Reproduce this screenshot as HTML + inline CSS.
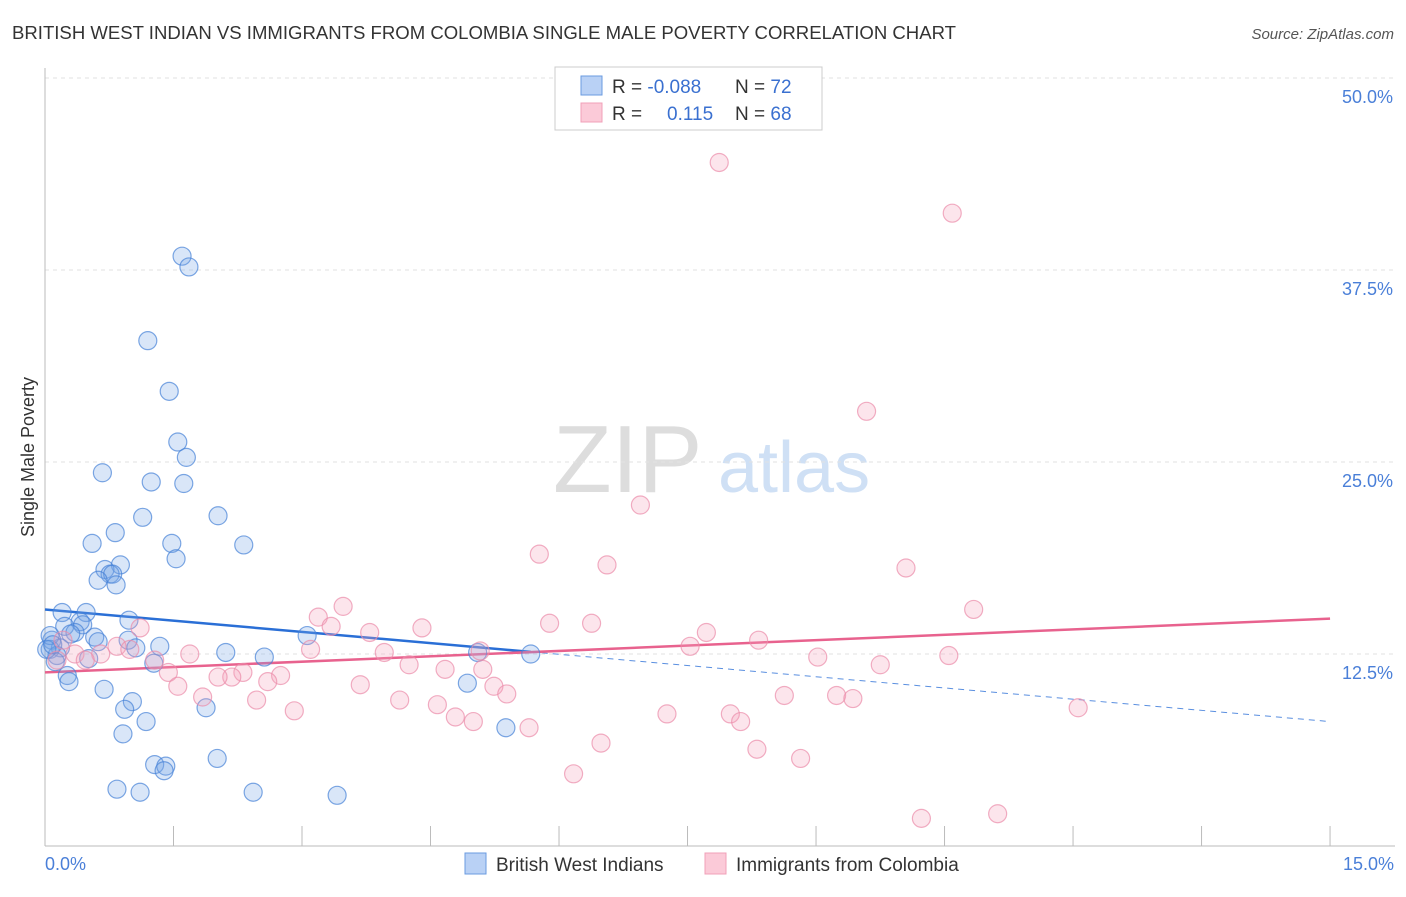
<!DOCTYPE html>
<html><head><meta charset="utf-8"><style>
body{margin:0;background:#fff;font-family:"Liberation Sans",sans-serif}
svg text{font-family:"Liberation Sans",sans-serif}
</style></head><body>
<svg id="chart" width="1406" height="892" xmlns="http://www.w3.org/2000/svg">
<text x="12" y="39" font-size="18" fill="#333" textLength="944" lengthAdjust="spacingAndGlyphs">BRITISH WEST INDIAN VS IMMIGRANTS FROM COLOMBIA SINGLE MALE POVERTY CORRELATION CHART</text>
<text x="1394" y="39" font-size="15" fill="#555" font-style="italic" text-anchor="end">Source: ZipAtlas.com</text>
<g>
<text x="553" y="492" font-size="96" fill="#ddd" font-family="Liberation Serif,serif">ZIP</text>
<text x="718" y="492" font-size="72" fill="#cfe0f5">atlas</text>
</g>
<g id="grid"></g>
<g id="axes"></g>
<text transform="translate(34,457) rotate(-90)" font-size="18" fill="#333" text-anchor="middle">Single Male Poverty</text>
<text x="45" y="870" font-size="18" fill="#4a7fd8">0.0%</text>
<text x="1394" y="870" font-size="18" fill="#4a7fd8" text-anchor="end">15.0%</text>
<g id="lines"></g>
<g id="points"></g>
<g>
<rect x="555" y="67" width="267" height="63" fill="#fff" stroke="#ccc"/>
<rect x="581" y="76" width="21" height="19" fill="#b9d1f5" stroke="#6a9be0"/>
<rect x="581" y="103" width="21" height="19" fill="#fbcad8" stroke="#f0a0b8"/>
<text x="612" y="93" font-size="19" fill="#333">R = <tspan fill="#3a70d0">-0.088</tspan><tspan x="735">N = </tspan><tspan fill="#3a70d0">72</tspan></text>
<text x="612" y="120" font-size="19" fill="#333">R = <tspan fill="#3a70d0" x="667">0.115</tspan><tspan x="735">N = </tspan><tspan fill="#3a70d0">68</tspan></text>
</g>
<g>
<rect x="465" y="853" width="21" height="21" fill="#b9d1f5" stroke="#6a9be0"/>
<text x="496" y="871" font-size="19" fill="#333">British West Indians</text>
</g>
<g>
<rect x="705" y="853" width="21" height="21" fill="#fbcad8" stroke="#f0a0b8"/>
<text x="736" y="871" font-size="19" fill="#333">Immigrants from Colombia</text>
</g>
</svg>
<script>
const yTicks=[12.5,25,37.5,50];
const yTickLabels=["12.5%","25.0%","37.5%","50.0%"];
const xTicks=[0,1.5,3,4.5,6,7.5,9,10.5,12,13.5,15];
const blueX=[1.60,1.68,1.20,1.45,1.55,1.65,1.62,0.67,1.24,2.02,1.14,0.82,0.55,1.48,2.32,1.53,0.88,0.70,0.76,0.79,0.62,0.83,0.20,0.48,0.41,0.44,0.23,0.35,0.30,0.98,0.08,0.58,0.97,0.62,1.34,1.06,0.18,0.06,0.14,0.51,0.12,2.11,2.56,3.06,1.27,0.26,0.28,0.69,1.02,0.93,1.88,4.93,5.05,5.67,1.18,0.91,5.38,2.01,1.28,1.41,1.39,0.84,1.11,2.43,3.41,0.06,0.02,0.09];
const blueY=[38.4,37.7,32.9,29.6,26.3,25.3,23.6,24.3,23.7,21.5,21.4,20.4,19.7,19.7,19.6,18.7,18.3,18.0,17.7,17.7,17.3,17.0,15.2,15.2,14.6,14.4,14.3,13.9,13.8,14.7,13.4,13.6,13.4,13.3,13.0,12.9,12.9,12.8,12.4,12.2,12.0,12.6,12.3,13.7,11.9,11.1,10.7,10.2,9.4,8.9,9.0,10.6,12.6,12.5,8.1,7.3,7.7,5.7,5.3,5.2,4.9,3.7,3.5,3.5,3.3,13.7,12.8,13.1];
const pinkX=[7.87,10.59,9.59,6.95,5.77,6.56,10.05,3.48,3.19,3.34,10.84,5.89,6.38,4.40,3.79,7.72,1.11,8.33,7.53,0.84,0.99,3.10,3.96,10.55,9.02,9.75,1.69,1.28,5.08,4.25,5.11,4.67,2.31,2.18,2.02,1.44,2.75,2.60,0.65,0.21,0.35,0.47,3.68,5.24,1.55,5.39,8.63,9.24,9.43,1.84,2.47,4.14,4.58,2.91,4.79,5.00,7.26,8.00,8.12,5.65,12.06,6.49,8.31,8.82,6.17,10.23,11.12,0.14];
const pinkY=[44.5,41.2,28.3,22.2,19.0,18.3,18.1,15.6,14.9,14.3,15.4,14.5,14.5,14.2,13.9,13.9,14.2,13.4,13.0,13.0,12.8,12.8,12.6,12.4,12.3,11.8,12.5,12.1,12.7,11.8,11.5,11.5,11.3,11.0,11.0,11.3,11.1,10.7,12.5,13.4,12.5,12.1,10.5,10.4,10.4,9.9,9.8,9.8,9.6,9.7,9.5,9.5,9.2,8.8,8.4,8.1,8.6,8.6,8.1,7.7,9.0,6.7,6.3,5.7,4.7,1.8,2.1,12.1];
const blueTrend=[15.4,8.1]; const blueSolidEnd=5.67;
const pinkTrend=[11.3,14.8];
const NS="http://www.w3.org/2000/svg";
const sx=v=>45+v*85.67, sy=v=>846-v*15.36;
function mk(tag,attrs,parent){const e=document.createElementNS(NS,tag);for(const k in attrs)e.setAttribute(k,attrs[k]);document.getElementById(parent).appendChild(e);return e;}
yTicks.forEach((t,i)=>{
 const l=mk('line',{x1:45,x2:1395,y1:sy(t),y2:sy(t),stroke:'#e2e2e2','stroke-dasharray':'4,4'},'grid');
 
 
 const tx=mk('text',{x:1393,y:sy(t)+25,'font-size':18,fill:'#4a7fd8','text-anchor':'end'},'grid');
 tx.textContent=yTickLabels[i];
 
 
});
let a=mk('line',{x1:45,x2:45,y1:68,y2:846,stroke:'#bbb'},'axes');


a=mk('line',{x1:45,x2:1395,y1:846,y2:846,stroke:'#bbb'},'axes');


xTicks.forEach(t=>{const l=mk('line',{x1:sx(t),x2:sx(t),y1:826,y2:846,stroke:'#bbb'},'axes');
 
 });
const by=x=>blueTrend[0]+(blueTrend[1]-blueTrend[0])*x/15;
let l=mk('line',{x1:sx(0),y1:sy(by(0)),x2:sx(blueSolidEnd),y2:sy(by(blueSolidEnd)),stroke:'#2a6fd6','stroke-width':2.5},'lines');


l=mk('line',{x1:sx(blueSolidEnd),y1:sy(by(blueSolidEnd)),x2:sx(15),y2:sy(by(15)),stroke:'#5a8fe0','stroke-width':1,'stroke-dasharray':'6,5'},'lines');


l=mk('line',{x1:sx(0),y1:sy(pinkTrend[0]),x2:sx(15),y2:sy(pinkTrend[1]),stroke:'#e8628e','stroke-width':2.5},'lines');


blueX.forEach((x,i)=>{const c=mk('circle',{cx:sx(x),cy:sy(blueY[i]),r:9,fill:'rgba(120,165,230,0.28)',stroke:'rgba(70,130,215,0.7)','stroke-width':1.2},'points');
 
 });
pinkX.forEach((x,i)=>{const c=mk('circle',{cx:sx(x),cy:sy(pinkY[i]),r:9,fill:'rgba(245,160,185,0.28)',stroke:'rgba(235,140,170,0.7)','stroke-width':1.2},'points');
 
 });
</script>
</body></html>
